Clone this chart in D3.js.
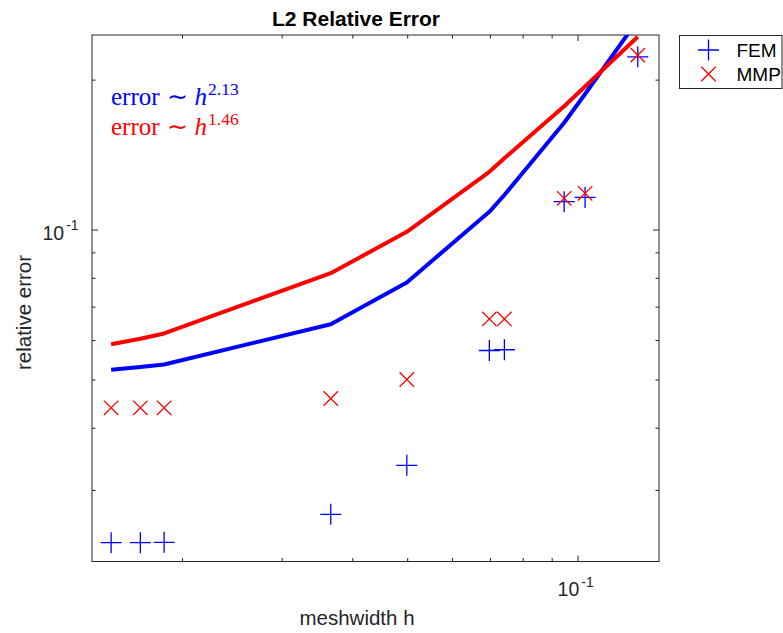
<!DOCTYPE html>
<html><head><meta charset="utf-8">
<script src="https://cdn.jsdelivr.net/npm/d3@7"></script>
<style>body{margin:0;background:#fff}svg{display:block}</style>
</head><body>
<script>
// ---- data ----
const h      = [0.01496, 0.01685, 0.01856, 0.03656, 0.04982, 0.0697, 0.0741, 0.0945, 0.1029, 0.1275];
const femErr = [0.02356, 0.02356, 0.02360, 0.02686, 0.0337, 0.0573, 0.0575, 0.1140, 0.1163, 0.2228];
const mmpErr = [0.04396, 0.04396, 0.04396, 0.0459, 0.0501, 0.0663, 0.0663, 0.1158, 0.1185, 0.2245];
const femFit = [0.0524, 0.0531, 0.0537, 0.0647, 0.0785, 0.1088, 0.1176, 0.1642, 0.1876, 0.264];
const mmpFit = [0.0590, 0.0605, 0.0620, 0.0819, 0.0992, 0.1309, 0.1393, 0.1772, 0.1942, 0.2444];
const xDomain = [0.01384, 0.139];
const yDomain = [0.0216, 0.2464];
const xMinorTicks = [0.02,0.03,0.04,0.05,0.06,0.07,0.08,0.09];
const yMinorTicks = [0.03,0.04,0.05,0.06,0.07,0.08,0.09,0.2];
const majorTicks = [0.1];
const legendLabels = ["FEM","MMP"];
const rateLabels = ["2.13","1.46"];

const W=783,H=633;
const L=92,R=659,T=35,B=561.5;
const svg=d3.select("body").append("svg").attr("width",W).attr("height",H);
const x=d3.scaleLog().domain(xDomain).range([L,R]);
const y=d3.scaleLog().domain(yDomain).range([B,T]);
const axc="#262626";
const sans="'Liberation Sans', Arial, Helvetica, sans-serif";

svg.append("defs").append("clipPath").attr("id","clip")
  .append("rect").attr("x",L).attr("y",T).attr("width",R-L).attr("height",B-T);

// ticks (inward, all four sides)
const tk=svg.append("g").attr("stroke",axc).attr("stroke-width",1);
function xt(v,len){
  tk.append("line").attr("x1",x(v)).attr("x2",x(v)).attr("y1",B).attr("y2",B-len);
  tk.append("line").attr("x1",x(v)).attr("x2",x(v)).attr("y1",T).attr("y2",T+len);
}
function yt(v,len){
  tk.append("line").attr("y1",y(v)).attr("y2",y(v)).attr("x1",L).attr("x2",L+len);
  tk.append("line").attr("y1",y(v)).attr("y2",y(v)).attr("x1",R).attr("x2",R-len);
}
xMinorTicks.forEach(v=>xt(v,3.5)); majorTicks.forEach(v=>xt(v,6));
yMinorTicks.forEach(v=>yt(v,3.5)); majorTicks.forEach(v=>yt(v,6));

// box
svg.append("rect").attr("x",L).attr("y",T).attr("width",R-L).attr("height",B-T)
  .attr("fill","none").attr("stroke",axc).attr("stroke-width",1);

// tick labels
majorTicks.forEach(v=>{
  const t=svg.append("text").attr("font-family",sans).attr("fill",axc)
    .attr("x",x(v)-20.5).attr("y",596).attr("font-size",19.5);
  t.append("tspan").text("10");
  t.append("tspan").attr("dx",2).attr("dy",-9.5).attr("font-size",14).text("-1");
  const t2=svg.append("text").attr("font-family",sans).attr("fill",axc)
    .attr("x",42.5).attr("y",y(v)+9.5).attr("font-size",19.5);
  t2.append("tspan").text("10");
  t2.append("tspan").attr("dx",2).attr("dy",-9.5).attr("font-size",14).text("-1");
});

// title & labels
svg.append("text").attr("x",356).attr("y",26).attr("text-anchor","middle")
  .attr("font-family",sans).attr("font-weight","bold").attr("font-size",21).attr("fill","#000")
  .text("L2 Relative Error");
svg.append("text").attr("x",357).attr("y",625).attr("text-anchor","middle")
  .attr("font-family",sans).attr("font-size",20.5).attr("fill",axc).text("meshwidth h");
svg.append("text").attr("transform","translate(30.5,312.5) rotate(-90)").attr("text-anchor","middle")
  .attr("font-family",sans).attr("font-size",20.5).attr("fill",axc).text("relative error");

// fit lines
const line=d3.line().x((d,i)=>x(h[i])).y(d=>y(d));
const lg=svg.append("g").attr("clip-path","url(#clip)");
lg.append("path").datum(femFit).attr("d",line).attr("fill","none").attr("stroke","#0000ff").attr("stroke-width",4).attr("stroke-linejoin","round");
lg.append("path").datum(mmpFit).attr("d",line).attr("fill","none").attr("stroke","#ff0000").attr("stroke-width",4).attr("stroke-linejoin","round");

// markers
const ps=10.5, xs=7.2;
function plus(g,cx,cy){
  g.append("path").attr("d",`M${cx-ps},${cy}H${cx+ps}M${cx},${cy-ps}V${cy+ps}`)
   .attr("stroke","#0000ff").attr("stroke-width",1.3).attr("fill","none");
}
function cross(g,cx,cy){
  g.append("path").attr("d",`M${cx-xs},${cy-xs}L${cx+xs},${cy+xs}M${cx-xs},${cy+xs}L${cx+xs},${cy-xs}`)
   .attr("stroke","#ff0000").attr("stroke-width",1.3).attr("fill","none");
}
const mg=svg.append("g");
h.forEach((v,i)=>plus(mg,x(v),y(femErr[i])));
h.forEach((v,i)=>cross(mg,x(v),y(mmpErr[i])));

// rate annotations
const serif="'Liberation Serif', 'Times New Roman', serif";
[["#0000ff",105],["#ff0000",135]].forEach(([c,by],i)=>{
  const t=svg.append("text").attr("x",111).attr("y",by).attr("font-family",serif)
    .attr("font-size",25).attr("fill",c);
  t.append("tspan").text("error");
  t.append("tspan").attr("dx",7).text("∼");
  t.append("tspan").attr("dx",7).attr("font-style","italic").text("h");
  t.append("tspan").attr("dx",1).attr("dy",-10).attr("font-size",17.5).text(rateLabels[i]);
});

// legend
const lgd=svg.append("g");
lgd.append("rect").attr("x",679.5).attr("y",35.5).attr("width",102.5).attr("height",53)
  .attr("fill","#fff").attr("stroke",axc).attr("stroke-width",1);
plus(lgd,708.5,50);
cross(lgd,708.5,74);
legendLabels.forEach((s,i)=>{
  lgd.append("text").attr("x",736.5).attr("y",57+i*24).attr("font-family",sans)
    .attr("font-size",19).attr("fill","#000").text(s);
});
</script>
</body></html>
